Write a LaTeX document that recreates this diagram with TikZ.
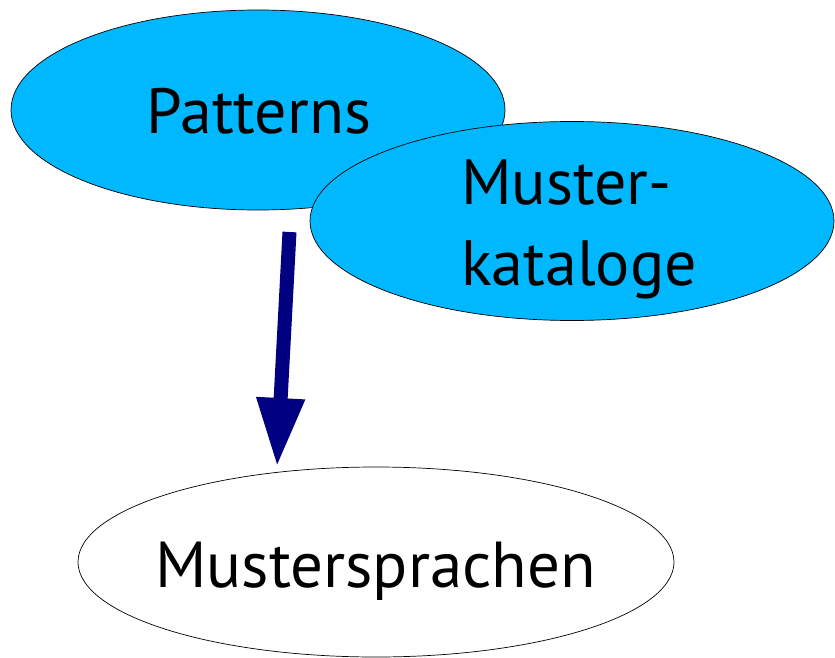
\documentclass[tikz,border=0pt]{standalone}
\usepackage{fontspec}
\setmainfont{PT Sans}
\usetikzlibrary{shapes.geometric,arrows.meta}
\definecolor{bubble}{RGB}{0,184,255}
\definecolor{arrownavy}{RGB}{0,0,128}
\tikzset{
  blob/.style={ellipse, draw=black, line width=0.7pt, inner sep=0pt},
  word/.style={inner sep=0pt, anchor=base, font=\fontsize{64}{81}\selectfont},
  bigarrow/.style={draw=arrownavy, line width=14pt,
    -{Triangle[length=69pt,width=45pt]}}
}
\begin{document}
\begin{tikzpicture}[x=1pt,y=-1pt]
  \useasboundingbox (0,0) rectangle (835,658);
  % upper bubbles
  \node[blob, fill=bubble, minimum width=494pt, minimum height=200pt] (patterns) at (258,110) {};
  \node[word] (patternstext) at (259,134) {Patterns};
  \node[blob, fill=bubble, minimum width=524pt, minimum height=199pt] (kataloge) at (572,221) {};
  \node[word, anchor=base west] (katalogetext1) at (461,204) {Muster-};
  \node[word, anchor=base west] (katalogetext2) at (461,285) {kataloge};
  % lower bubble
  \node[blob, fill=white, minimum width=596pt, minimum height=190pt] (sprachen) at (376,562) {};
  \node[word, font=\fontsize{65}{81}\selectfont] (sprachentext) at (375.5,587) {Mustersprachen};
  % arrow
  \coordinate (arrowstart) at (289.5,232);
  \coordinate (arrowtip) at (277,467);
  \draw[bigarrow] (arrowstart) -- (arrowtip);
\end{tikzpicture}
\end{document}
